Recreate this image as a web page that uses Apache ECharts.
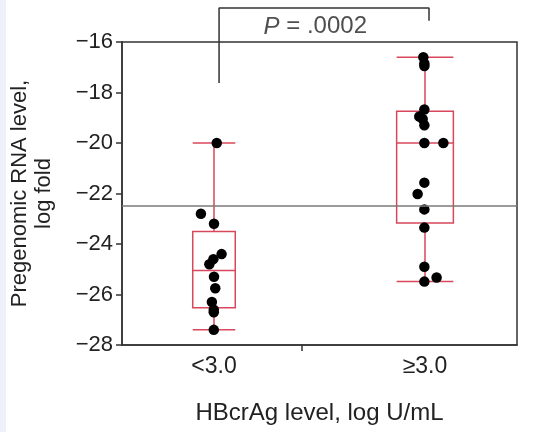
<!DOCTYPE html>
<html>
<head>
<meta charset="utf-8">
<script src="https://cdn.jsdelivr.net/npm/echarts@6/dist/echarts.min.js"></script>
<style>
html,body{margin:0;padding:0;background:#fff;}
#main{width:546px;height:432px;}
</style>
</head>
<body>
<div id="main"></div>
<script>
// ---- data ----
var categories = ['<3.0', '\u22653.0'];
var categoryPos = [1, 2];
var yTicks = [-28, -26, -24, -22, -20, -18, -16];
var refLineValue = -22.5;
var pValueText = '.0002';

var lowValues  = [-20.0, -22.8, -23.2, -24.4, -24.6, -24.8, -25.3, -25.75, -26.3, -26.6, -26.7, -27.4];
var lowJitterX = [1.013, 0.938, 1.0, 1.036, 0.997, 0.978, 1.0, 1.006, 0.99, 0.999, 0.999, 0.999];

var highValues  = [-16.6, -16.85, -16.95, -18.67, -18.95, -19.05, -19.3, -20.0, -20.0, -21.57, -22.02, -22.63, -23.35, -24.9, -25.33, -25.49];
var highJitterX = [1.992, 1.997, 1.997, 1.997, 1.973, 1.989, 1.997, 1.997, 2.087, 1.997, 1.965, 1.997, 1.997, 1.997, 2.055, 1.997];

// ---- helpers ----
function quantile(sortedAsc, p) {
  var n = sortedAsc.length;
  var pos = (n + 1) * p;
  var lo = Math.floor(pos), frac = pos - lo;
  if (lo < 1) return sortedAsc[0];
  if (lo >= n) return sortedAsc[n - 1];
  return sortedAsc[lo - 1] + frac * (sortedAsc[lo] - sortedAsc[lo - 1]);
}
function boxStats(vals, x) {
  var s = vals.slice().sort(function (a, b) { return a - b; });
  return [x, s[0], quantile(s, 0.25), quantile(s, 0.5), quantile(s, 0.75), s[s.length - 1], vals.length * 0.0084];
}
var boxData = [boxStats(lowValues, categoryPos[0]), boxStats(highValues, categoryPos[1])];

var points = [];
lowValues.forEach(function (v, i) { points.push([lowJitterX[i], v]); });
highValues.forEach(function (v, i) { points.push([highJitterX[i], v]); });

var FONT = 'Liberation Sans, Arial, Helvetica, sans-serif';
var RED = '#d8475b';
var DARK = '#333333';

var chart = echarts.init(document.getElementById('main'), null, {renderer: 'canvas'});

var option = {
  animation: false,
  backgroundColor: '#ffffff',
  textStyle: {fontFamily: FONT},
  graphic: [{
    type: 'rect', left: 0, top: 0, shape: {width: 6, height: 432},
    style: {fill: '#eef1f9'}, silent: true
  }],
  grid: {
    left: 122, right: 29, top: 42, bottom: 87,
    show: true, borderColor: DARK, borderWidth: 1.5, backgroundColor: 'transparent'
  },
  xAxis: {
    type: 'value', min: 0.564, max: 2.436,
    splitLine: {show: false},
    axisLine: {show: true, lineStyle: {color: DARK, width: 1.5}},
    axisTick: {show: true, customValues: [1.417], length: 6, lineStyle: {color: DARK, width: 1.5}},
    axisLabel: {
      customValues: categoryPos, margin: 10, fontSize: 23, color: '#222', fontFamily: FONT,
      formatter: function (v) { var i = categoryPos.indexOf(Math.round(v)); return i >= 0 ? categories[i] : ''; }
    },
    name: 'HBcrAg level, log U/mL', nameLocation: 'middle', nameGap: 56,
    nameTextStyle: {fontSize: 24, color: '#222', fontFamily: FONT}
  },
  yAxis: {
    type: 'value', min: yTicks[0], max: yTicks[yTicks.length - 1], interval: 2,
    splitLine: {show: false},
    axisLine: {show: true, lineStyle: {color: DARK, width: 1.5}},
    axisTick: {show: true, length: 6, lineStyle: {color: DARK, width: 1.5}},
    axisLabel: {
      margin: 9, fontSize: 22, color: '#222', fontFamily: FONT,
      formatter: function (v) { return v < 0 ? '\u2212' + Math.abs(v) : String(v); }
    },
    name: 'Pregenomic RNA level,\nlog fold', nameLocation: 'middle', nameGap: 66,
    nameTextStyle: {fontSize: 22, color: '#222', lineHeight: 24, fontFamily: FONT}
  },
  series: [
    {
      type: 'line', data: [], silent: true,
      markLine: {
        silent: true, symbol: ['none', 'none'], label: {show: false},
        lineStyle: {color: '#7a7a7a', width: 1.5, type: 'solid'},
        data: [{yAxis: refLineValue}]
      }
    },
    {
      type: 'custom',
      data: boxData,
      encode: {x: 0, y: [1, 2, 3, 4, 5]},
      renderItem: function (params, api) {
        var x = api.value(0), hw = api.value(6);
        var mn = api.value(1), q1 = api.value(2), md = api.value(3), q3 = api.value(4), mx = api.value(5);
        var pL = function (v) { return api.coord([x - hw, v]); };
        var pR = function (v) { return api.coord([x + hw, v]); };
        var pC = function (v) { return api.coord([x, v]); };
        var st = {stroke: RED, lineWidth: 1.5, fill: null};
        var tl = pL(q3), br = pR(q1);
        return {
          type: 'group',
          children: [
            {type: 'line', shape: {x1: pC(mx)[0], y1: pC(mx)[1], x2: pC(q3)[0], y2: pC(q3)[1]}, style: st},
            {type: 'line', shape: {x1: pC(q1)[0], y1: pC(q1)[1], x2: pC(mn)[0], y2: pC(mn)[1]}, style: st},
            {type: 'line', shape: {x1: pL(mx)[0], y1: pL(mx)[1], x2: pR(mx)[0], y2: pR(mx)[1]}, style: st},
            {type: 'line', shape: {x1: pL(mn)[0], y1: pL(mn)[1], x2: pR(mn)[0], y2: pR(mn)[1]}, style: st},
            {type: 'rect', shape: {x: tl[0], y: tl[1], width: br[0] - tl[0], height: br[1] - tl[1]}, style: {stroke: RED, lineWidth: 1.5, fill: 'rgba(0,0,0,0)'}},
            {type: 'line', shape: {x1: pL(md)[0], y1: pL(md)[1], x2: pR(md)[0], y2: pR(md)[1]}, style: st}
          ]
        };
      }
    },
    {
      type: 'scatter', data: points, symbol: 'circle', symbolSize: 10.5,
      itemStyle: {color: '#000000', opacity: 1}, silent: true
    },
    {
      type: 'line', clip: false, silent: true, symbol: 'none',
      lineStyle: {color: DARK, width: 1.5},
      data: [[1.024, -17.62], [1.024, -14.65], [2.019, -14.65], [2.019, -15.16]]
    },
    {
      type: 'scatter', clip: false, silent: true, symbolSize: 0,
      data: [[1.48, -15.4]],
      label: {
        show: true, position: 'inside', color: '#222', fontSize: 24, fontFamily: FONT,
        formatter: function () { return '{it|P} = ' + pValueText; },
        rich: {it: {fontStyle: 'italic', fontSize: 24, color: '#222', fontFamily: FONT}}
      }
    }
  ]
};
chart.setOption(option);
</script>
</body>
</html>
